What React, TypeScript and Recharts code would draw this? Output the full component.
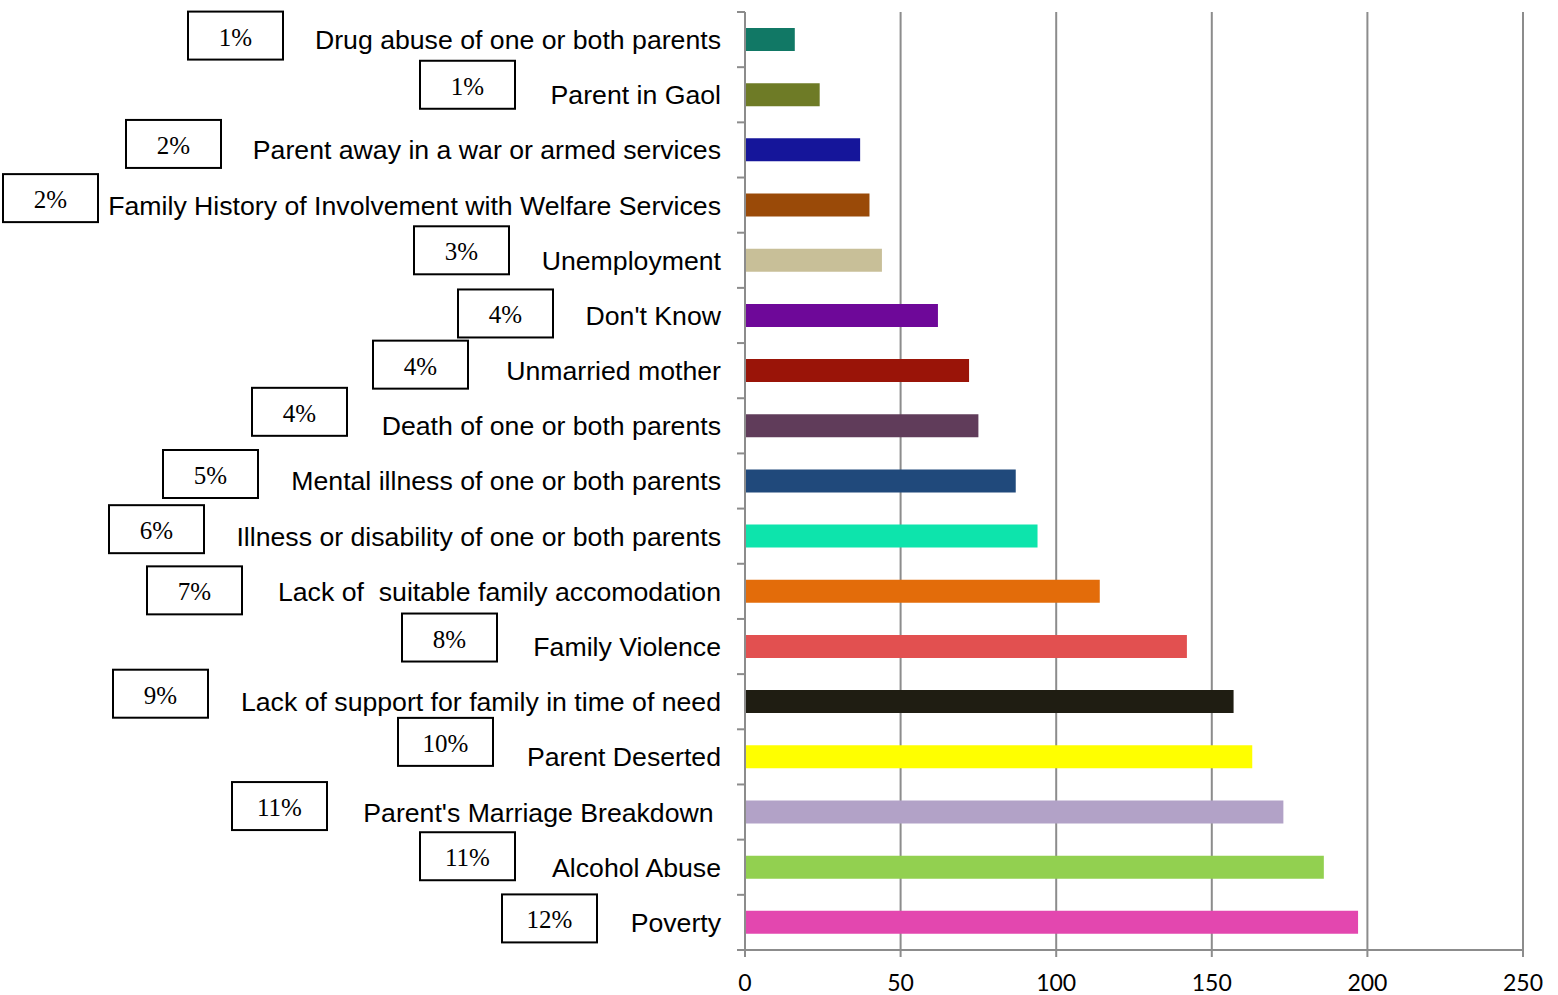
import React from "react";
import { BarChart, Bar, XAxis, YAxis, CartesianGrid, Cell } from "recharts";

// ---- data ----
const categories = [
  "Drug abuse of one or both parents",
  "Parent in Gaol",
  "Parent away in a war or armed services",
  "Family History of Involvement with Welfare Services",
  "Unemployment",
  "Don't Know",
  "Unmarried mother",
  "Death of one or both parents",
  "Mental illness of one or both parents",
  "Illness or disability of one or both parents",
  "Lack of  suitable family accomodation",
  "Family Violence",
  "Lack of support for family in time of need",
  "Parent Deserted",
  "Parent's Marriage Breakdown ",
  "Alcohol Abuse",
  "Poverty",
];

const values = [16, 24, 37, 40, 44, 62, 72, 75, 87, 94, 114, 142, 157, 163, 173, 186, 197];

const percentLabels = [
  "1%", "1%", "2%", "2%", "3%", "4%", "4%", "4%", "5%", "6%", "7%", "8%", "9%", "10%", "11%", "11%", "12%",
];

const xTicks = [0, 50, 100, 150, 200, 250];

// ---- styles / layout ----
const barColors = [
  "#117865", "#6e7b26", "#15159a", "#9a4a08", "#c8bf98", "#6e0899", "#9a1408", "#603c5a", "#20497b",
  "#0de4ac", "#e36c0a", "#e25050", "#1f1d12", "#ffff00", "#b2a2c7", "#92d050", "#e347af",
];

// percentage box placement: left edge (px) and vertical shift from the row centre (px)
const boxLeft = [188, 420, 126, 3, 414, 458, 373, 252, 163, 109, 147, 402, 113, 398, 232, 420, 502];
const boxShift = [-4, -10, -6, -7, -10, -2, -6, -14, -7, -7, -1, -9, -8, -15, -6, -11, -4];

const W = 1558;
const H = 995;
const TOP = 12;
const BOTTOM = 950;
const AXIS_X = 745;
const BAND = (BOTTOM - TOP) / categories.length;
const BOX_W = 95;
const BOX_H = 48;
const GRAY = "#8c8c8c";

const data = categories.map((name, i) => ({ name, value: values[i] }));

const CategoryTick = (props: any) => {
  const { y, payload, index } = props;
  const i = index as number;
  const yc = y as number;
  const bx = boxLeft[i];
  const by = yc + boxShift[i];
  return (
    <g>
      <line x1={AXIS_X - 8} x2={AXIS_X} y1={yc - BAND / 2} y2={yc - BAND / 2} stroke={GRAY} strokeWidth={2} />
      {i === categories.length - 1 && (
        <line x1={AXIS_X - 8} x2={AXIS_X} y1={yc + BAND / 2} y2={yc + BAND / 2} stroke={GRAY} strokeWidth={2} />
      )}
      <text
        x={AXIS_X - 24}
        y={yc}
        dy="0.355em"
        textAnchor="end"
        fill="#000"
        fontFamily="'Liberation Sans', Arial, sans-serif"
        fontSize={26.67}
        style={{ whiteSpace: "pre" }}
      >
        {payload.value}
      </text>
      <rect x={bx} y={by - BOX_H / 2} width={BOX_W} height={BOX_H} fill="#fff" stroke="#000" strokeWidth={2} />
      <text
        x={bx + BOX_W / 2}
        y={by}
        dy="0.4em"
        textAnchor="middle"
        fill="#000"
        fontFamily="'Liberation Serif', 'Times New Roman', serif"
        fontSize={25}
      >
        {percentLabels[i]}
      </text>
    </g>
  );
};

export default function App() {
  return (
    <div style={{ position: "absolute", left: 0, top: 0, width: W, height: H, background: "#fff" }}>
      <BarChart
        width={W}
        height={H}
        data={data}
        layout="vertical"
        margin={{ top: TOP, right: W - 1523, bottom: 0, left: 0 }}
      >
        <CartesianGrid horizontal={false} vertical={true} stroke={GRAY} strokeWidth={2} />
        <XAxis
          type="number"
          domain={[0, 250]}
          ticks={xTicks}
          interval={0}
          height={H - BOTTOM}
          axisLine={{ stroke: GRAY, strokeWidth: 2 }}
          tickLine={{ stroke: GRAY, strokeWidth: 2 }}
          tickSize={7}
          tickMargin={18}
          tick={{ fill: "#000", fontSize: 23, fontFamily: "Lato, sans-serif" }}
        />
        <YAxis
          type="category"
          dataKey="name"
          width={AXIS_X}
          interval={0}
          axisLine={{ stroke: GRAY, strokeWidth: 2 }}
          tickLine={false}
          tick={<CategoryTick />}
        />
        <Bar dataKey="value" barSize={23} isAnimationActive={false}>
          {data.map((d, i) => (
            <Cell key={d.name} fill={barColors[i]} />
          ))}
        </Bar>
      </BarChart>
    </div>
  );
}
